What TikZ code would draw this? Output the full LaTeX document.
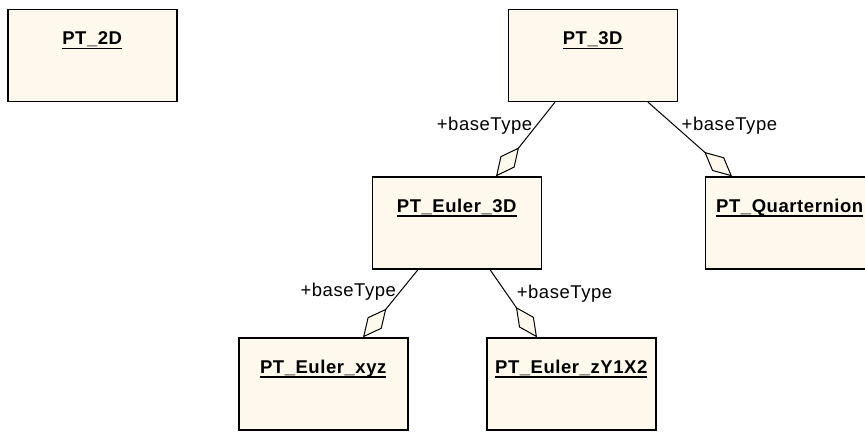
\documentclass[tikz,border=0pt]{standalone}
\usepackage{fontspec}
\setmainfont{Liberation Sans}[LetterSpace=3]
\usetikzlibrary{arrows.meta}
\definecolor{umlfill}{RGB}{255,249,237}
\newlength\titlewd
\newcommand\ulname[1]{\settowidth{\titlewd}{\bfseries #1}\rlap{\rule[-4.3pt]{\titlewd}{1.3pt}}\textbf{#1}}

\begin{document}
\begin{tikzpicture}[
    x=1pt, y=-1pt,
    font=\fontsize{18.5}{22}\selectfont,
    cls/.style={%
      draw,
      rectangle,
      line width=1.3pt,
      fill=umlfill,
      minimum width=169pt,
      minimum height=92pt,
    },
    clsname/.style={anchor=base, inner sep=0pt},
    agg/.style={line width=1pt, -{Diamond[open, fill=umlfill, length=37pt, width=18pt]}},
  ]
    \useasboundingbox (0,0) rectangle (865,432);

    \node [cls] (A) at (92.5,55.5) {};
    \node [cls] (B) at (593,55.5) {};
    \node [cls] (C) at (457,223) {};
    \node [cls] (D) at (790,223) {};
    \node [cls] (E) at (323.5,384) {};
    \node [cls] (F) at (571.5,384) {};

    \path (A.north) ++(0,36) node [clsname] (At) {\ulname{PT\_2D}};
    \path (B.north) ++(0,36) node [clsname] (Bt) {\ulname{PT\_3D}};
    \path (C.north) ++(0,36) node [clsname] (Ct) {\ulname{PT\_Euler\_3D}};
    \path (D.north) ++(0,36) node [clsname] (Dt) {\ulname{PT\_Quarternion}};
    \path (E.north) ++(0,36) node [clsname] (Et) {\ulname{PT\_Euler\_xyz}};
    \path (F.north) ++(0,36) node [clsname] (Ft) {\ulname{PT\_Euler\_zY1X2}};

    \draw [agg] ([xshift=-38pt]B.south) -- ([xshift=39pt]C.north) node [left,pos=0.32] (BC) {+baseType};
    \draw [agg] ([xshift=55pt]B.south) -- ([xshift=-58pt]D.north) node [right,pos=0.32,xshift=3pt] (BD) {+baseType};
    \draw [agg] ([xshift=-39pt]C.south) -- ([xshift=39.5pt]E.north) node [left,pos=0.33] (CE) {+baseType};
    \draw [agg] ([xshift=33pt]C.south) -- ([xshift=-34.5pt]F.north) node [right,pos=0.36,xshift=6pt] (CF) {+baseType};
    \end{tikzpicture}
\end{document}
